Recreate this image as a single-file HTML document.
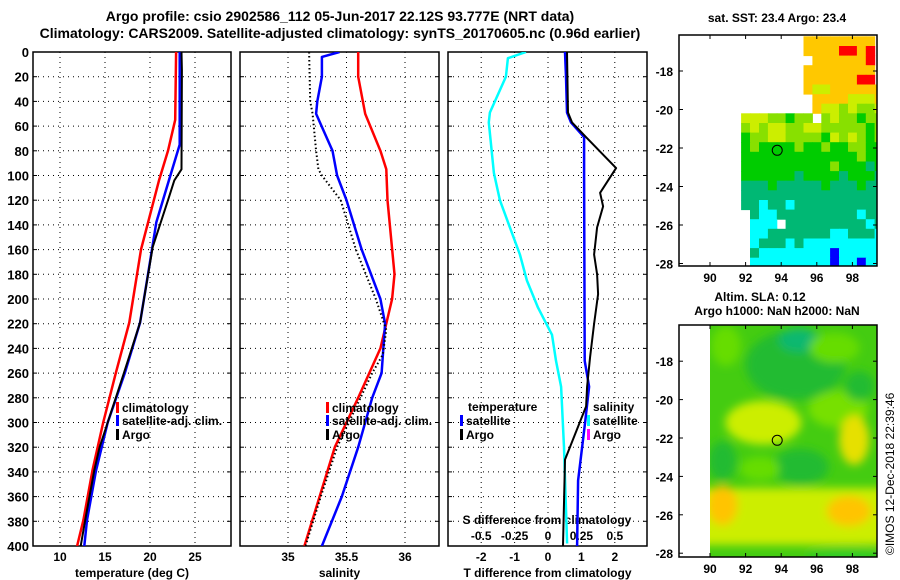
<!DOCTYPE html>
<html><head><meta charset="utf-8"><style>
html,body{margin:0;padding:0;background:#fff;}
svg{display:block;font-family:"Liberation Sans",sans-serif;font-weight:bold;}
</style></head><body>
<svg id="fig" width="900" height="580" viewBox="0 0 900 580">
<defs>
<clipPath id="m1clip"><rect x="679" y="35" width="198" height="231"/></clipPath>
<clipPath id="m2clip"><rect x="710" y="325" width="167" height="232"/></clipPath>
<clipPath id="p1c"><rect x="33" y="52" width="198" height="494"/></clipPath>
<clipPath id="p2c"><rect x="240" y="52" width="199" height="494"/></clipPath>
<clipPath id="p3c"><rect x="448" y="52" width="199" height="494"/></clipPath>
<filter id="blur" x="-20%" y="-20%" width="140%" height="140%"><feGaussianBlur stdDeviation="4.5"/></filter>
</defs>
<text x="340" y="21" font-size="14" text-anchor="middle">Argo profile: csio 2902586_112 05-Jun-2017 22.12S 93.777E (NRT data)</text>
<text x="340" y="38" font-size="14" text-anchor="middle">Climatology: CARS2009. Satellite-adjusted climatology: synTS_20170605.nc (0.96d earlier)</text>
<g id="layer"></g>
<text x="777" y="22" font-size="12" text-anchor="middle">sat. SST: 23.4 Argo: 23.4</text>
<text x="760" y="301" font-size="12" text-anchor="middle">Altim. SLA: 0.12</text>
<text x="777" y="315" font-size="12" text-anchor="middle">Argo h1000: NaN h2000: NaN</text>
<text transform="translate(894,555) rotate(-90)" font-size="12" font-weight="normal">©IMOS 12-Dec-2018 22:39:46</text>
</svg>
<script>
// ---- data ----
const depthTicks = [0,20,40,60,80,100,120,140,160,180,200,220,240,260,280,300,320,340,360,380,400];
const tempTicks = [10,15,20,25];
const salTicks = [35,35.5,36];
const tdiffTicks = [-2,-1,0,1,2];
const sdiffTicks = [-0.5,-0.25,0,0.25,0.5];
const sdiffLabels = ["-0.5","-0.25","0","0.25","0.5"];

const tClimDepth = [0,55,80,104,160,219,260,300,339,379,400];
const tClimVal   = [22.9,22.8,22.0,21.0,19.0,17.7,16.2,14.8,13.6,12.6,11.9];
const tSatDepth  = [0,75,104,138,179,219,260,300,339,379,400];
const tSatVal    = [23.3,23.3,22.1,20.7,19.8,18.9,17.2,15.3,14.0,13.0,12.7];
const tArgoDepth = [0,15,95,104,120,158,197,219,260,300,320,339,379,400];
const tArgoVal   = [23.5,23.55,23.5,22.7,22.0,20.3,19.4,18.9,17.1,15.3,14.4,13.8,12.8,12.3];

const sClimDepth = [0,20,50,80,95,120,180,200,240,280,320,360,400];
const sClimVal   = [35.6,35.6,35.66,35.79,35.84,35.85,35.91,35.89,35.79,35.6,35.4,35.27,35.14];
const sSatDepth  = [0,4,20,40,50,80,100,120,160,200,220,260,280,320,360,400];
const sSatVal    = [35.44,35.29,35.29,35.25,35.24,35.38,35.42,35.5,35.63,35.79,35.83,35.8,35.72,35.6,35.46,35.29];
const sArgoDepth = [0,40,50,80,95,100,120,160,200,225,245,260,280,320,360,400];
const sArgoVal   = [35.18,35.19,35.21,35.24,35.26,35.29,35.45,35.58,35.75,35.84,35.81,35.72,35.62,35.42,35.28,35.15];

const dTSatDepth = [0,20,49,57,69,100,250,271,300,347,400];
const dTSatVal   = [0.51,0.54,0.57,0.69,1.08,1.08,1.1,1.23,1.11,0.9,0.87];
const dTArgoDepth= [0,49,57,69,94,114,125,142,164,180,196,220,247,271,287,330,400];
const dTArgoVal  = [0.57,0.6,0.72,1.14,2.04,1.56,1.65,1.47,1.38,1.47,1.5,1.38,1.26,1.17,1.14,0.51,0.45];
const dSSatDepth = [0,5,20,49,57,98,120,142,164,185,207,229,250,271,320,398];
const dSSatVal   = [-0.165,-0.3,-0.315,-0.435,-0.443,-0.405,-0.36,-0.285,-0.21,-0.158,-0.075,0.03,0.06,0.098,0.12,0.143];

const lonTicks = [90,92,94,96,98];
const latTicks = [-18,-20,-22,-24,-26,-28];
const sstRows = [
"              oooooooo",
"              oooorror",
"               oooooor",
"              oooooooo",
"              oooooorr",
"              oyyoooooo",
"               ooooyyyo",
"               oyylylly",
"       yyyllgll lyllgll",
"       lylyyllyylllllgl",
"       gllyyllllgylylgl",
"       glgggglgglggllgg",
"       ggggggggggggglggg",
"       gggggggggglgggtgg",
"       ggggggtggggtgggtg",
"       tttgtttttgtttgttt",
"       tttttttttttttttttt",
"       ttcttcttttttttttt",
"        tcctttttttttcttt",
"        ccc tttttttttctt",
"        cctttttttcctttct",
"        ctttctcccccccccc",
"        tccccccccbccccc",
"        cccccccccbccbcc"];
const slaBlobs = [
 {lon:94.8,lat:-18.2,rx:50,ry:35,c:"#22bb33"},
 {lon:95.0,lat:-16.9,rx:20,ry:12,c:"#10b870"},
 {lon:90.9,lat:-17.2,rx:15,ry:20,c:"#66dd00"},
 {lon:97.0,lat:-17.3,rx:25,ry:15,c:"#66dd00"},
 {lon:97.2,lat:-20.5,rx:30,ry:18,c:"#77e000"},
 {lon:98.4,lat:-19.3,rx:15,ry:15,c:"#22bb33"},
 {lon:93.0,lat:-21.2,rx:38,ry:22,c:"#ccee00"},
 {lon:98.1,lat:-22.1,rx:15,ry:25,c:"#e6e000"},
 {lon:90.7,lat:-23.2,rx:14,ry:20,c:"#22bb33"},
 {lon:95.1,lat:-23.5,rx:28,ry:18,c:"#22bb33"},
 {lon:92.8,lat:-23.6,rx:20,ry:12,c:"#66dd00"},
 {lon:90.7,lat:-25.5,rx:15,ry:20,c:"#ffc400"},
 {lon:97.8,lat:-25.8,rx:22,ry:15,c:"#ffc400"},
 {lon:97.6,lat:-28.1,rx:40,ry:8,c:"#33cc22"}
];

// ---- scales ----
const yD = d => 52 + d*494/400;
const xT = t => 60 + (t-10)*9;
const xS = s => 288 + (s-35)*117;
const xdT = v => 548 + v*33.4;
const xdS = v => 548 + v*133.6;
const m1x = lon => 710 + (lon-90)*17.8;
const m1y = lat => 148 - (lat+22)*19.25;
const m2x = lon => 710 + (lon-90)*17.8;
const m2y = lat => 438 - (lat+22)*19.2;

const NS="http://www.w3.org/2000/svg";
const layer=document.getElementById('layer');
function mk(tag,attrs,parent){const e=document.createElementNS(NS,tag);for(const k in attrs)e.setAttribute(k,attrs[k]);(parent||layer).appendChild(e);return e;}
function txt(x,y,s,size,anchor,parent){const e=mk('text',{x:x,y:y,'font-size':size,'text-anchor':anchor},parent);e.textContent=s;return e;}

// ---- panels ----
const panels=[{x:33,w:198,c:'p1c',xt:tempTicks,xf:xT,lab:'temperature (deg C)'},
              {x:240,w:199,c:'p2c',xt:salTicks,xf:xS,lab:'salinity'},
              {x:448,w:199,c:'p3c',xt:tdiffTicks,xf:xdT,lab:'T difference from climatology'}];
panels.forEach((p,i)=>{
  const g=mk('g',{});
  
  
  depthTicks.forEach(d=>{
    const l=mk('line',{x1:p.x,x2:p.x+p.w,y1:yD(d),y2:yD(d),stroke:'#000','stroke-width':1,'stroke-dasharray':'1,4'},g);
    
    
    mk('line',{x1:p.x,x2:p.x+4,y1:yD(d),y2:yD(d),stroke:'#000'},g);
    mk('line',{x1:p.x+p.w-4,x2:p.x+p.w,y1:yD(d),y2:yD(d),stroke:'#000'},g);
  });
  p.xt.forEach((v,k)=>{
    const x=p.xf(v);
    const l=mk('line',{x1:x,x2:x,y1:52,y2:546,stroke:'#000','stroke-dasharray':'1,4'},g);
    
    
    const t=txt(x,561,String(v),12,'middle',g);
    
    
  });
  const r=mk('rect',{x:p.x,y:52,width:p.w,height:494,fill:'none',stroke:'#000','stroke-width':1.5},g);
  
  
  const t=txt(p.x+p.w/2,577,p.lab,12,'middle',g);
  
  
});
depthTicks.forEach(d=>{
  const t=txt(29,yD(d)+5,String(d),13,'end');
  
  
});
sdiffTicks.forEach((v,k)=>{
  const t=txt(xdS(v),540,sdiffLabels[k],12,'middle');
  
  
});
{const t=txt(547,524,'S difference from climatology',12,'middle');

}

function line(depths,vals,xf,color,w,clip,name,dash){
  const pts=depths.map((d,i)=>xf(vals[i]).toFixed(1)+','+yD(d).toFixed(1)).join(' ');
  const a={points:pts,fill:'none',stroke:color,'stroke-width':w,'clip-path':'url(#'+clip+')','stroke-linejoin':'round'};
  if(dash)a['stroke-dasharray']=dash;
  const e=mk('polyline',a);
  
  
}
line(tClimDepth,tClimVal,xT,'#ff0000',2.5,'p1c','temp-climatology-line');
line(tSatDepth,tSatVal,xT,'#0000ff',2.5,'p1c','temp-satellite-line');
line(tArgoDepth,tArgoVal,xT,'#000',2,'p1c','temp-argo-line');
line(sClimDepth,sClimVal,xS,'#ff0000',2.5,'p2c','sal-climatology-line');
line(sSatDepth,sSatVal,xS,'#0000ff',2.5,'p2c','sal-satellite-line');
line(sArgoDepth,sArgoVal,xS,'#000',2,'p2c','sal-argo-line','1.5,2.5');
line(dSSatDepth,dSSatVal,xdS,'#00ffff',2.5,'p3c','sdiff-satellite-line');
line(dTSatDepth,dTSatVal,xdT,'#0000ff',2.5,'p3c','tdiff-satellite-line');
line(dTArgoDepth,dTArgoVal,xdT,'#000',2,'p3c','tdiff-argo-line');

function legend(x,y,color,label,name){
  const g=mk('g',{});
  
  
  mk('rect',{x:x,y:y-10,width:3,height:11,fill:color},g);
  txt(x+6,y,label,12,'start',g);
}
legend(116,412,'#ff0000','climatology','legend-temp-climatology');
legend(116,425,'#0000ff','satellite-adj. clim.','legend-temp-satellite');
legend(116,439,'#000','Argo','legend-temp-argo');
legend(326,412,'#ff0000','climatology','legend-sal-climatology');
legend(326,425,'#0000ff','satellite-adj. clim.','legend-sal-satellite');
legend(326,439,'#000','Argo','legend-sal-argo');
{const t=txt(468,411,'temperature',12,'start');}
legend(460,425,'#0000ff','satellite','legend-tdiff-satellite');
legend(460,439,'#000','Argo','legend-tdiff-argo');
{const t=txt(593,411,'salinity',12,'start');}
legend(587,425,'#00ffff','satellite','legend-sdiff-satellite');
legend(587,439,'#ff00ff','Argo','legend-sdiff-argo');

// ---- map 1 (SST) ----
const cmap={o:'#ffc800',r:'#ff0000',y:'#ccee00',l:'#88e000',g:'#00cc00',t:'#00b874',c:'#00ffff',b:'#0000ff'};
const m1=mk('g',{'clip-path':'url(#m1clip)'});


sstRows.forEach((row,j)=>{
  for(let i=0;i<row.length;i++){
    const ch=row[i]; if(ch===' ')continue;
    const lon=88.25+i*0.5, lat=-16.2-j*0.5;
    const cell=mk('rect',{x:m1x(lon).toFixed(1),y:m1y(lat).toFixed(1),width:9.4,height:10.1,fill:cmap[ch]},m1);
    
    
  }
});
function mapFrame(y0,h,xf,yf,prefix){
  const r=mk('rect',{x:679,y:y0,width:198,height:h,fill:'none',stroke:'#000','stroke-width':1.5});
  
  
  lonTicks.forEach(v=>{
    const x=xf(v);
    mk('line',{x1:x,x2:x,y1:y0,y2:y0+4,stroke:'#000'});
    mk('line',{x1:x,x2:x,y1:y0+h-4,y2:y0+h,stroke:'#000'});
    const t=txt(x,y0+h+16,String(v),12,'middle');
    
    
  });
  latTicks.forEach(v=>{
    const y=yf(v);
    mk('line',{x1:679,x2:683,y1:y,y2:y,stroke:'#000'});
    mk('line',{x1:873,x2:877,y1:y,y2:y,stroke:'#000'});
    const t=txt(673,y+5,String(v),12,'end');
    
    
  });
}
mapFrame(35,231,m1x,m1y,'sst-map');
{const c=mk('circle',{cx:m1x(93.777),cy:m1y(-22.12),r:5,fill:'none',stroke:'#000','stroke-width':1});
}

// ---- map 2 (SLA) ----
const m2=mk('g',{'clip-path':'url(#m2clip)'});


mk('rect',{x:710,y:325,width:167,height:232,fill:'#44cc11'},m2);
const bg=mk('g',{filter:'url(#blur)'},m2);
mk('rect',{x:700,y:488,width:190,height:57,fill:'#ccee00'},bg);
slaBlobs.forEach(b=>{
  const e=mk('ellipse',{cx:m2x(b.lon),cy:m2y(b.lat),rx:b.rx,ry:b.ry,fill:b.c},bg);
  
  
});
mapFrame(325,232,m2x,m2y,'sla-map');
{const c=mk('circle',{cx:m2x(93.777),cy:m2y(-22.12),r:5,fill:'none',stroke:'#000','stroke-width':1});
}
</script>
</body></html>
